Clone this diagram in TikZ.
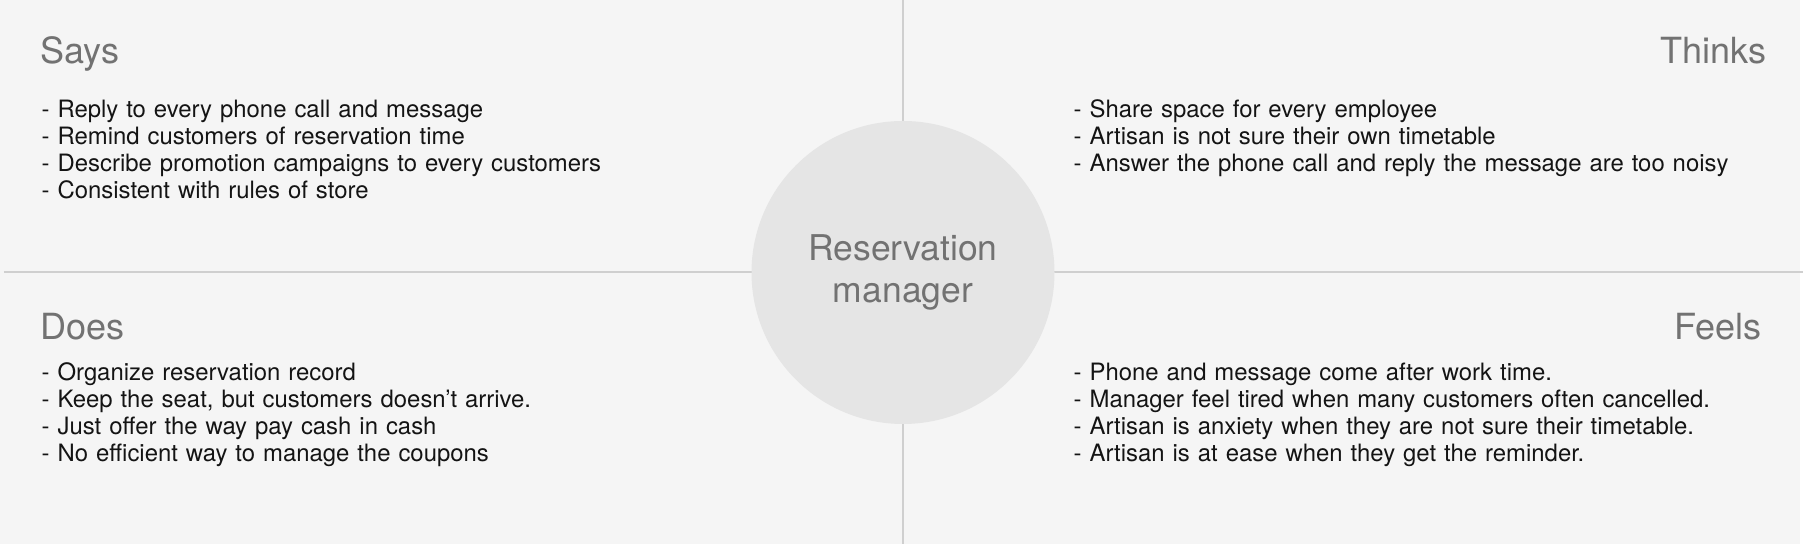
\documentclass[tikz,border=0pt]{standalone}
\usepackage{fontspec}
\setmainfont{TeX Gyre Heros}
\usepackage{xcolor}
\usepackage{tikz}
\usetikzlibrary{positioning}

\definecolor{paper}{HTML}{F5F5F5}
\definecolor{hubfill}{HTML}{E5E5E5}
\definecolor{rulegray}{HTML}{CFCFCF}
\definecolor{headgray}{HTML}{727272}
\definecolor{ink}{HTML}{141414}

\begin{document}
\begin{tikzpicture}[
    heading/.style={inner sep=0pt, text=headgray, font=\fontsize{10.25}{12}\selectfont},
    itemlist/.style={inner sep=0pt, text=ink, text width=8cm, align=left, font=\fontsize{6.8}{7.6}\selectfont},
    hub/.style={circle, fill=hubfill, minimum size=3.03cm, inner sep=0pt, align=center, text=headgray, font=\fontsize{10.1}{12.2}\selectfont}
]
    \useasboundingbox (0,0) rectangle (18.03,-5.44);
    \fill[paper] (0,0) rectangle (18.00,-5.44);
    \draw[rulegray, line width=0.6pt] (0.04,-2.72) -- (18.03,-2.72);
    \draw[rulegray, line width=0.6pt] (9.03,0) -- (9.03,-5.44);

    \node[hub] (manager) at (9.03,-2.725) {Reservation\\manager};

    \node[heading, anchor=base west] (says) at (0.40,-0.64) {Says};
    \node[heading, anchor=base east] (thinks) at (17.67,-0.64) {Thinks};
    \node[heading, anchor=base west] (does) at (0.40,-3.40) {Does};
    \node[heading, anchor=base east] (feels) at (17.62,-3.395) {Feels};

    \node[itemlist, anchor=base west] (sayslist) at (0.41,-1.18) {- Reply to every phone call and message\\- Remind customers of reservation time\\- Describe promotion campaigns to every customers\\- Consistent with rules of store};
    \node[itemlist, anchor=base west] (thinkslist) at (10.73,-1.18) {- Share space for every employee\\- Artisan is not sure their own timetable\\- Answer the phone call and reply the message are too noisy};
    \node[itemlist, anchor=base west] (doeslist) at (0.41,-3.81) {- Organize reservation record\\- Keep the seat, but customers doesn’t arrive.\\- Just offer the way pay cash in cash\\- No efficient way to manage the coupons};
    \node[itemlist, anchor=base west] (feelslist) at (10.73,-3.81) {- Phone and message come after work time.\\- Manager feel tired when many customers often cancelled.\\- Artisan is anxiety when they are not sure their timetable.\\- Artisan is at ease when they get the reminder.};
\end{tikzpicture}
\end{document}
